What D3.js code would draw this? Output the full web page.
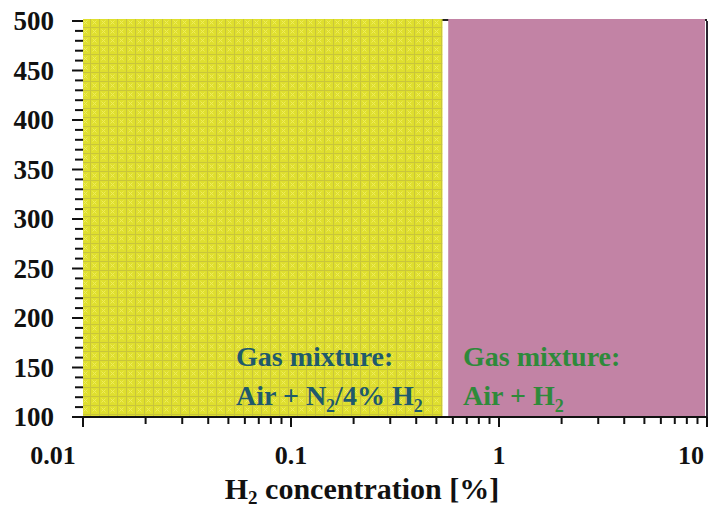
<!DOCTYPE html>
<html>
<head>
<meta charset="utf-8">
<script src="https://cdn.jsdelivr.net/npm/d3@7.8.5/dist/d3.min.js"></script>
<style>
  body { margin: 0; background: #fff; }
  text { font-family: "Liberation Serif", "Times New Roman", serif; font-weight: bold; }
</style>
</head>
<body>
<div id="chart"></div>
<script>
// Axis extents
const xDomain = [0.01, 10];
const yDomain = [100, 500];
const xMajorTicks = [0.01, 0.1, 1, 10];
const xTickLabels = ["0.01", "0.1", "1", "10"];
const yMajorTicks = [100, 150, 200, 250, 300, 350, 400, 450, 500];

// Gas mixture regions (concentration range)
const regionNames = ["Air + N2/4% H2", "Air + H2"];
const regionFrom = [0.01, 0.57];
const regionTo = [0.535, 10];

const width = 722, height = 510;
const margin = { top: 21, right: 15, bottom: 93, left: 83 };

const svg = d3.select('#chart').append('svg')
    .attr('width', width)
    .attr('height', height);

const x = d3.scaleLog()
    .domain(xDomain)
    .range([margin.left, width - margin.right]);

const y = d3.scaleLinear()
    .domain(yDomain)
    .range([height - margin.bottom, margin.top]);

// Pattern for the yellow region
const defs = svg.append('defs');
const pat = defs.append('pattern')
    .attr('id', 'ypat')
    .attr('patternUnits', 'userSpaceOnUse')
    .attr('width', 9).attr('height', 9);
pat.append('rect').attr('width', 9).attr('height', 9).attr('fill', '#dfdf2e');
pat.append('path').attr('d', 'M0,0.5H9M0.5,0V9')
    .attr('stroke', '#c8c53c').attr('stroke-width', 1);
pat.append('path').attr('d', 'M2.5,2.5L6.5,6.5M6.5,2.5L2.5,6.5')
    .attr('stroke', '#eeec5e').attr('stroke-width', 1);

// Frame (top line visible only in the gap)
svg.append('line')
    .attr('x1', x(xDomain[0])).attr('x2', x(xDomain[1]))
    .attr('y1', y(yDomain[1]) - 1).attr('y2', y(yDomain[1]) - 1)
    .style('stroke', '#222').style('stroke-width', 2);

// Regions
const regions = regionNames.map((n, i) => ({ name: n, from: regionFrom[i], to: regionTo[i] }));
svg.selectAll('.region')
    .data(regions)
    .enter()
    .append('rect')
    .attr('class', 'region')
    .attr('x', d => x(d.from))
    .attr('width', (d, i) => x(d.to) - x(d.from) - (i === 1 ? 2 : 0))
    .attr('y', y(yDomain[1]) - 2)
    .attr('height', y(yDomain[0]) - y(yDomain[1]) + 2)
    .style('fill', (d, i) => i === 0 ? 'url(#ypat)' : '#c283a5');

// Right frame line
svg.append('line')
    .attr('x1', x(xDomain[1])).attr('x2', x(xDomain[1]))
    .attr('y1', y(yDomain[1])).attr('y2', y(yDomain[0]))
    .style('stroke', '#2a2430').style('stroke-width', 2);

// X axis
const xMinor = [];
for (let d = 0.01; d < 10; d *= 10) {
    for (let k = 2; k <= 9; k++) xMinor.push(+(d * k).toPrecision(3));
}
const xAxisG = svg.append('g')
    .attr('transform', `translate(0,${y(yDomain[0])})`);
xAxisG.append('line')
    .attr('x1', x(xDomain[0])).attr('x2', x(xDomain[1]))
    .style('stroke', '#111').style('stroke-width', 2);
xAxisG.selectAll('.xminor')
    .data(xMinor).enter().append('line')
    .attr('x1', d => x(d)).attr('x2', d => x(d))
    .attr('y1', 0).attr('y2', 7)
    .style('stroke', '#111').style('stroke-width', 2);
xAxisG.selectAll('.xmajor')
    .data(xMajorTicks).enter().append('line')
    .attr('x1', d => x(d)).attr('x2', d => x(d))
    .attr('y1', 0).attr('y2', 10)
    .style('stroke', '#111').style('stroke-width', 2);
xAxisG.selectAll('.xlabel')
    .data(xMajorTicks).enter().append('text')
    .attr('x', (d, i) => x(d) - (i === 0 ? 30 : (i === 3 ? 16 : 0)))
    .attr('y', 47)
    .attr('text-anchor', 'middle')
    .style('font-size', '26px')
    .style('fill', '#111')
    .text((d, i) => xTickLabels[i]);

// X title
const xt = svg.append('text')
    .attr('x', (x(xDomain[0]) + x(xDomain[1])) / 2 - 33)
    .attr('y', 499)
    .attr('text-anchor', 'middle')
    .style('font-size', '30px')
    .style('fill', '#111');
xt.append('tspan').text('H');
xt.append('tspan').attr('dy', 5).style('font-size', '19px').text('2');
xt.append('tspan').attr('dy', -5).text(' concentration [%]');

// Y axis
const yMinor = d3.range(yDomain[0], yDomain[1] + 1, 10).filter(v => v % 50 !== 0);
const yAxisG = svg.append('g');
yAxisG.selectAll('.yminor')
    .data(yMinor).enter().append('line')
    .attr('x1', x(xDomain[0]) - 8).attr('x2', x(xDomain[0]))
    .attr('y1', d => y(d)).attr('y2', d => y(d))
    .style('stroke', '#111').style('stroke-width', 2);
yAxisG.selectAll('.ymajor')
    .data(yMajorTicks).enter().append('line')
    .attr('x1', x(xDomain[0]) - 11).attr('x2', x(xDomain[0]))
    .attr('y1', d => y(d)).attr('y2', d => y(d))
    .style('stroke', '#111').style('stroke-width', 2);
yAxisG.selectAll('.ylabel')
    .data(yMajorTicks).enter().append('text')
    .attr('x', 54)
    .attr('y', d => y(d) + 9)
    .attr('text-anchor', 'end')
    .style('font-size', '27px')
    .style('fill', '#111')
    .text(d => d);

// Region labels
function regionLabel(x0, color, parts) {
    svg.append('text')
        .attr('x', x0).attr('y', 366)
        .style('font-size', '28px')
        .style('fill', color)
        .text('Gas mixture:');
    const t = svg.append('text')
        .attr('x', x0).attr('y', 405)
        .style('font-size', '28px')
        .style('fill', color);
    parts.forEach(p => {
        if (p.sub) t.append('tspan').attr('dy', 7).style('font-size', '18px').text(p.s);
        else t.append('tspan').attr('dy', p.after ? -7 : 0).text(p.s);
    });
}
regionLabel(236, '#1f5a6c', [
    { s: 'Air + N' }, { s: '2', sub: true }, { s: '/4% H', after: true }, { s: '2', sub: true }
]);
regionLabel(463, '#2e8a3a', [
    { s: 'Air + H' }, { s: '2', sub: true }
]);
</script>
</body>
</html>
